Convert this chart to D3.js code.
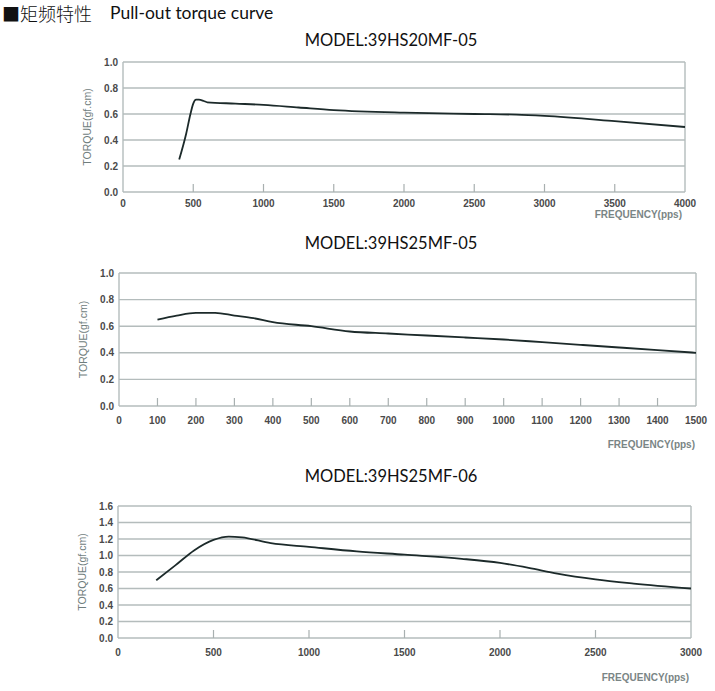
<!DOCTYPE html>
<html>
<head>
<meta charset="utf-8">
<script src="https://cdn.jsdelivr.net/npm/d3@7"></script>
<style>
  body { margin: 0; background: #fff; }
  svg { display: block; }
</style>
</head>
<body>
<svg width="715" height="691"></svg>
<script>
// data
var freq1 = [400, 450, 480, 500, 520, 540, 575, 600, 800, 1000, 1250, 1500, 2000, 2500, 2800, 3000, 3500, 4000];
var torque1 = [0.25, 0.45, 0.6, 0.68, 0.71, 0.71, 0.70, 0.69, 0.68, 0.67, 0.65, 0.63, 0.61, 0.60, 0.595, 0.585, 0.545, 0.50];

var freq2 = [100, 150, 200, 250, 300, 350, 400, 500, 600, 700, 800, 900, 1000, 1100, 1200, 1300, 1400, 1500];
var torque2 = [0.65, 0.68, 0.70, 0.70, 0.68, 0.66, 0.63, 0.60, 0.56, 0.545, 0.53, 0.515, 0.50, 0.48, 0.46, 0.44, 0.42, 0.40];

var freq3 = [200, 300, 400, 500, 580, 650, 800, 1000, 1250, 1500, 1800, 2000, 2150, 2300, 2500, 2700, 3000];
var torque3 = [0.70, 0.88, 1.065, 1.19, 1.23, 1.22, 1.15, 1.105, 1.05, 1.01, 0.96, 0.91, 0.85, 0.78, 0.71, 0.66, 0.60];

var xTicks1 = [0, 500, 1000, 1500, 2000, 2500, 3000, 3500, 4000];
var xTicks2 = [0, 100, 200, 300, 400, 500, 600, 700, 800, 900, 1000, 1100, 1200, 1300, 1400, 1500];
var xTicks3 = [0, 500, 1000, 1500, 2000, 2500, 3000];
var yTicks1 = [0, 0.2, 0.4, 0.6, 0.8, 1.0];
var yTicks3 = [0, 0.2, 0.4, 0.6, 0.8, 1.0, 1.2, 1.4, 1.6];

var svg = d3.select("svg");

// header
svg.append("text")
  .attr("x", 2).attr("y", 21)
  .attr("fill", "#111")
  .style("font-family", "'Noto Sans CJK SC', sans-serif")
  .style("font-size", "18px")
  .style("font-weight", "300")
  .text("■矩频特性");
svg.append("text")
  .attr("x", 110).attr("y", 19)
  .attr("fill", "#111")
  .style("font-family", "Lato, sans-serif")
  .style("font-size", "17.5px")
  .text("Pull-out torque curve");

var charts = [
  {title: "MODEL:39HS20MF-05", f: freq1, t: torque1, xt: xTicks1, yt: yTicks1, xmax: 4000, ymax: 1.0,
   x0: 123, x1: 685, top: 62, bot: 192, titleY: 46, tickY: 207, freqY: 218, freqX: 682},
  {title: "MODEL:39HS25MF-05", f: freq2, t: torque2, xt: xTicks2, yt: yTicks1, xmax: 1500, ymax: 1.0,
   x0: 119, x1: 696, top: 273, bot: 406, titleY: 249, tickY: 424, freqY: 448, freqX: 695},
  {title: "MODEL:39HS25MF-06", f: freq3, t: torque3, xt: xTicks3, yt: yTicks3, xmax: 3000, ymax: 1.6,
   x0: 118, x1: 691, top: 506, bot: 638, titleY: 482, tickY: 656, freqY: 681, freqX: 689}
];

charts.forEach(function (c) {
  var x = d3.scaleLinear().domain([0, c.xmax]).range([c.x0, c.x1]);
  var y = d3.scaleLinear().domain([0, c.ymax]).range([c.bot, c.top]);
  var g = svg.append("g");

  g.append("text")
    .attr("x", 391).attr("y", c.titleY)
    .attr("text-anchor", "middle")
    .style("font-family", "Lato, sans-serif")
    .style("font-size", "16.5px")
    .attr("fill", "#111")
    .text(c.title);

  // horizontal grid
  g.selectAll(".grid").data(c.yt).enter().append("line")
    .attr("x1", c.x0).attr("x2", c.x1)
    .attr("y1", d => y(d)).attr("y2", d => y(d))
    .attr("stroke", "#b4bcbc").attr("stroke-width", 1.4);

  // side borders
  [c.x0, c.x1].forEach(function (px) {
    g.append("line")
      .attr("x1", px).attr("x2", px).attr("y1", c.top).attr("y2", c.bot)
      .attr("stroke", "#b4bcbc").attr("stroke-width", 1.4);
  });

  // inner tick marks
  g.selectAll(".tk").data(c.xt.slice(1, -1)).enter().append("line")
    .attr("x1", d => x(d)).attr("x2", d => x(d))
    .attr("y1", c.bot - 8).attr("y2", c.bot)
    .attr("stroke", "#a8b0b0").attr("stroke-width", 1.2);

  g.selectAll(".xl").data(c.xt).enter().append("text")
    .attr("x", d => x(d)).attr("y", c.tickY)
    .attr("text-anchor", "middle")
    .style("font-family", "'Liberation Sans', Arial, sans-serif")
    .style("font-size", "10px").style("font-weight", "bold")
    .attr("fill", "#4a4a4a")
    .text(d => d);

  g.selectAll(".yl").data(c.yt).enter().append("text")
    .attr("x", c.x0 - 5).attr("y", d => y(d) + 3.5)
    .attr("text-anchor", "end")
    .style("font-family", "'Liberation Sans', Arial, sans-serif")
    .style("font-size", "10px").style("font-weight", "bold")
    .attr("fill", "#4a4a4a")
    .text(d => d.toFixed(1));

  g.append("text")
    .attr("transform", "translate(" + (c.x0 - 32) + "," + ((c.top + c.bot) / 2) + ") rotate(-90)")
    .attr("text-anchor", "middle")
    .style("font-family", "'Liberation Sans', Arial, sans-serif")
    .style("font-size", "10.5px")
    .attr("fill", "#6f7d7d")
    .text("TORQUE(gf.cm)");

  g.append("text")
    .attr("x", c.freqX).attr("y", c.freqY)
    .attr("text-anchor", "end")
    .style("font-family", "'Liberation Sans', Arial, sans-serif")
    .style("font-size", "10px").style("font-weight", "bold")
    .attr("fill", "#7a8585")
    .text("FREQUENCY(pps)");

  var pts = c.f.map((d, i) => [d, c.t[i]]);
  g.append("path")
    .datum(pts)
    .attr("fill", "none")
    .attr("stroke", "#1c2a2a")
    .attr("stroke-width", 1.8)
    .attr("d", d3.line().x(d => x(d[0])).y(d => y(d[1])).curve(d3.curveMonotoneX));
});
</script>
</body>
</html>
